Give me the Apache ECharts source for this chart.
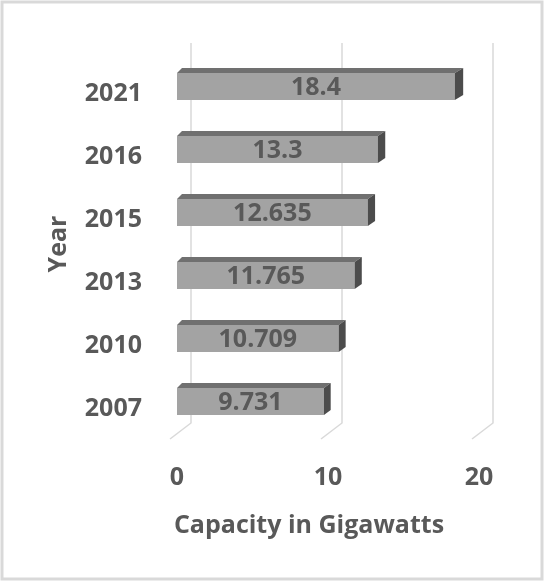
<!DOCTYPE html>
<html>
<head>
<meta charset="utf-8">
<script src="https://cdn.jsdelivr.net/npm/echarts@6/dist/echarts.min.js"></script>
<style>
  body { margin: 0; background: #fff; }
  #chart { width: 544px; height: 581px; }
</style>
</head>
<body>
<div id="chart"></div>
<script>
// data
var years = ['2007', '2010', '2013', '2015', '2016', '2021'];
var capacity = [9.731, 10.709, 11.765, 12.635, 13.3, 18.4];
var xTicks = [0, 10, 20];

var txt = '#595959';
var font = '"Open Sans", "Noto Sans", sans-serif';

// 3d looking bar: front face, top face and right side face
function renderBar(params, api) {
  var cat = api.value(1);
  var start = api.coord([0, cat]);
  var end = api.coord([api.value(0), cat]);
  var h = api.size([0, 1])[1] * 0.43;
  var x0 = start[0], x1 = end[0];
  var yTop = start[1] - h / 2, yBot = start[1] + h / 2;
  var dy = 5, dxL = 5, dxR = 5 + (x1 - x0) * 0.012;
  return {
    type: 'group',
    children: [
      { type: 'rect', shape: { x: x0, y: yTop, width: x1 - x0, height: h }, style: { fill: '#a3a3a3' } },
      { type: 'polygon', shape: { points: [[x0, yTop], [x0 + dxL, yTop - dy], [x1 + dxR, yTop - dy], [x1, yTop]] }, style: { fill: '#707070' } },
      { type: 'polygon', shape: { points: [[x1, yTop], [x1 + dxR, yTop - dy], [x1 + dxR, yBot - dy], [x1, yBot]] }, style: { fill: '#4c4c4c' } },
      { type: 'text', style: { text: String(capacity[params.dataIndex]), x: (x0 + x1) / 2, y: start[1] + 1,
          align: 'center', verticalAlign: 'middle', fill: txt, fontSize: 25, fontWeight: 'bold', fontFamily: font } }
    ]
  };
}

// back wall gridlines with the little floor slant
function renderGrid(params, api) {
  var p = api.coord([api.value(0), 0]);
  var cs = params.coordSys;
  var xb = p[0] + 14;
  return {
    type: 'polyline',
    shape: { points: [[xb, cs.y - 12], [xb, cs.y + cs.height - 10], [p[0] - 7, cs.y + cs.height + 6]] },
    style: { stroke: '#d9d9d9', lineWidth: 1.5, fill: null }
  };
}

var chart = echarts.init(document.getElementById('chart'));
chart.setOption({
  animation: false,
  backgroundColor: '#fff',
  graphic: [{
    type: 'rect', shape: { x: 2, y: 2, width: 540, height: 577 },
    style: { stroke: '#d9d9d9', lineWidth: 3, fill: null }, silent: true
  }],
  grid: { left: 177, right: 65, top: 55, bottom: 148 },
  xAxis: {
    type: 'value', min: 0, max: 20, interval: 10,
    name: 'Capacity in Gigawatts', nameLocation: 'middle', nameGap: 80,
    nameTextStyle: { color: txt, fontSize: 25, fontWeight: 'bold', fontFamily: font, padding: [0, 38, 0, 0] },
    axisLine: { show: false }, axisTick: { show: false }, splitLine: { show: false },
    axisLabel: { color: txt, fontSize: 25, fontWeight: 'bold', fontFamily: font, margin: 32 }
  },
  yAxis: {
    type: 'category', data: years,
    name: 'Year', nameLocation: 'middle', nameGap: 106,
    nameTextStyle: { color: txt, fontSize: 25, fontWeight: 'bold', fontFamily: font },
    axisLine: { show: false }, axisTick: { show: false },
    axisLabel: { color: txt, fontSize: 25, fontWeight: 'bold', fontFamily: font, margin: 35,
      verticalAlign: 'top', lineHeight: 14 }
  },
  series: [
    {
      type: 'custom', z: 1, silent: true,
      renderItem: renderGrid,
      encode: { x: 0, y: 1 },
      data: xTicks.map(function (t) { return [t, 0]; })
    },
    {
      type: 'custom', z: 2,
      renderItem: renderBar,
      encode: { x: 0, y: 1 },
      data: capacity.map(function (v, i) { return [v, i]; })
    }
  ]
});
</script>
</body>
</html>
